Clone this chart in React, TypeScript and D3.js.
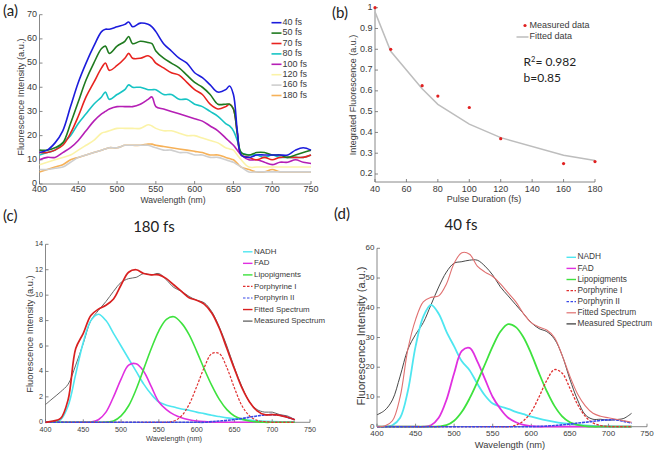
import React from "react";
import * as d3 from "d3";

// ---------- Panel (a) data ----------
const WL_A = [400,410,420,430,440,450,460,470,480,485,490,500,510,515,520,530,540,545,550,560,570,580,590,600,610,620,630,640,645,650,655,660,670,680,690,700,710,720,730,740,750];
const FS40 = [13,14,17,22,32,42,50,57,63,64,64,65,66,67,65,66.5,66,65,63,58,55,52,50,46,44,41,38,39,40.5,37,22,12,11,12,12,12,12,12,14,15,14];
const FS50 = [14,14,15,17,25,34,43,50,56,57,54,57,59,61,58,59,58.5,58,55,52,50,48,45,42,40,37,33,33,33,31,21,13,12,13,13,12,12,11,12,13,14];
const FS70 = [13,13,14,16,21,28,36,42,48,50,47,49,52,54,52,52,53,52,50,48,46,45,42,39,37,33,31,32,33,31,21,12,11,10,11,10,11,11,11,11,12];
const FS80 = [12,13,14,17,20,25,29,33,36,38,35,37,39,41,40,40,39,39,39,37,37,35,35,33,32,30,28,25,24,22,18,13,12,12,11,12,11,11,11,11,12];
const FS100 = [10,11,11,13,15,18,22,26,29,30,31,32,32,32,32,33,35,36,32,31,30,29,28,27,26,24,22,19,17.5,16,14,12,10,10,9,8,9,9,10,9,8.5];
const FS120 = [8,9,10,11,12,14,16,18,21,21.5,22,23,23,23,23,23,24.5,24,23,22,22,21,20,20,19,18,17,15,14.5,14,12,10,7,7,7,7,7,7,7,7,7];
const FS160 = [6,6,6.5,7,9,11,12,13,14,14.5,15,15,16,16,16,16,16,15.5,15,14,14,13,13,12,12,11,11,10,9.5,9,8,7,5,5,5,5,5,5,5,5,5];
const FS180 = [5,6,7,8,10,11,12,13,14,14.5,15,15,16,16,16,16,16.5,16.5,16,15.5,15,14.5,14,13.5,13,12,12,11,10.5,10,8.5,7,6,5,5,6,5,5,5,5,5];
const A_SERIES = [FS40, FS50, FS70, FS80, FS100, FS120, FS160, FS180];
const A_LABELS = ["40 fs","50 fs","70 fs","80 fs","100 fs","120 fs","160 fs","180 fs"];
const A_COLORS = ["#1c1cdc","#1f7a1f","#e8231f","#17c4c4","#b51fb5","#fbf3a8","#cfcfcf","#f6b158"];
const A_XTICKS = [400,450,500,550,600,650,700,750];
const A_YTICKS = [0,10,20,30,40,50,60,70];

// ---------- Panel (b) data ----------
const PULSE = [40,50,70,80,100,120,160,180];
const MEASURED_B = [1.0,0.80,0.625,0.575,0.52,0.37,0.25,0.26];
const FITTED_B = [0.98,0.79,0.61,0.535,0.44,0.375,0.29,0.265];
const B_XTICKS = [40,60,80,100,120,140,160,180];
const B_YTICKS = [0.2,0.3,0.4,0.5,0.6,0.7,0.8,0.9,1];

// ---------- Panels (c) and (d) data ----------
const WL_CD = [400,410,420,430,440,450,460,470,480,490,500,510,520,530,540,550,560,570,580,590,600,610,620,630,640,650,660,670,680,690,700,710,720,730];
const NADH_C = [0,0.05,0.2,1.3,3.8,6.3,8.0,8.5,8.0,7.0,6.0,5.0,4.0,3.0,2.2,1.6,1.35,1.2,1.05,0.95,0.8,0.68,0.55,0.45,0.35,0.28,0.22,0.17,0.12,0.08,0.05,0.03,0.02,0.01];
const FAD_C = [0,0,0,0,0,0,0.02,0.2,0.8,2.0,3.4,4.5,4.6,4.0,2.8,1.6,1.0,0.6,0.35,0.2,0.1,0.05,0.02,0,0,0,0,0,0,0,0,0,0,0];
const LIPO_C = [0,0,0,0,0,0,0,0,0.02,0.1,0.5,1.3,2.6,4.2,5.8,7.2,8.1,8.3,7.8,6.9,5.6,4.2,2.9,1.8,1.0,0.5,0.25,0.1,0.03,0,0,0,0,0];
const PORPH1_C = [0,0,0,0,0,0,0,0,0,0,0,0,0,0,0,0,0,0.1,0.5,1.4,2.8,4.3,5.4,5.4,4.3,2.7,1.3,0.5,0.15,0.05,0,0,0,0];
const PORPH2_C = [0,0,0,0,0,0,0,0,0,0,0,0,0,0,0,0,0,0,0,0,0,0,0.05,0.1,0.15,0.22,0.3,0.4,0.5,0.58,0.6,0.55,0.4,0.2];
const FIT_C = [0,0.1,0.3,1.8,5.8,7.0,8.4,8.9,9.2,9.7,10.8,11.8,12.0,11.7,11.6,11.6,11.3,10.8,10.3,9.8,9.6,9.3,8.6,7.4,5.8,4.2,2.7,1.6,0.9,0.6,0.6,0.55,0.4,0.2];
const MEAS_C = [1.4,1.9,2.4,3.0,4.5,6.2,8.0,8.8,9.5,10.3,11.0,11.3,11.4,11.7,11.6,11.7,11.2,10.6,10.3,9.9,9.6,9.4,8.7,7.5,6.0,4.3,2.8,1.6,1.0,0.8,0.8,0.6,0.5,0.2];

const NADH_D = [0,0,0.5,3,12,27,37,41,38,32,27,22,19,14.5,10.5,7.8,6.8,6.0,5.0,4.2,3.4,2.7,2.1,1.6,1.2,0.9,0.6,0.4,0.25,0.15,0.08,0.04,0.02,0];
const FAD_D = [0,0,0,0,0,0,0,0.5,3,9,18,25.5,26.5,22,16,10,6,3,1.5,0.6,0.2,0,0,0,0,0,0,0,0,0,0,0,0,0];
const LIPO_D = [0,0,0,0,0,0,0,0,0.1,0.5,2,5,9.5,15,21,27,32,34.5,33.5,30,24.5,18,12,7,3.5,1.5,0.6,0.2,0,0,0,0,0,0];
const PORPH1_D = [0,0,0,0,0,0,0,0,0,0,0,0,0,0,0,0,0,0,0.5,2,5,10,15.5,19.2,18,13,7.5,3.5,1.3,0.4,0.1,0,0,0];
const PORPH2_D = [0,0,0,0,0,0,0,0,0,0,0,0,0,0,0,0,0,0,0,0,0,0.1,0.2,0.4,0.6,0.9,1.2,1.5,1.8,2.1,2.3,2.3,1.8,1.2];
const FIT_D = [0,0.2,2,10,26,36,42,43.5,44,48,55,58.5,58,54,52,50.5,48,45,42,38,35,33.5,32.5,30,24,17,11,7,4.5,3.5,3,2.5,2,1.5];
const MEAS_D = [4,5.5,9,17,26,31,35,41,47,52,55,55.5,56,56,54,51,47,44,41,38,35,33,32,29.5,24,16,9,4,2.5,2.5,2.2,2.4,2.8,4.5];

const CD_LABELS = ["NADH","FAD","Lipopigments","Porphyrine I","Porphyrin II","Fitted Spectrum","Measured Spectrum"];
const CD_XTICKS = [400,450,500,550,600,650,700,750];
const C_YTICKS = [0,2,4,6,8,10,12,14];
const D_YTICKS = [0,10,20,30,40,50,60];

const AX_FONT = "'Liberation Sans', Arial, sans-serif";
const TITLE_FONT = "Lato, 'Open Sans', sans-serif";
const TXT = "#3a3a3a";
const AXC = "#6a6a6a";

type AxesProps = {
  x: d3.ScaleLinear<number, number>;
  y: d3.ScaleLinear<number, number>;
  xTicks: number[];
  yTicks: number[];
  fs: number;
  yBottom: number;
  yTop: number;
  xLabelY: number;
  yLabelGap: number;
};

function Axes({ x, y, xTicks, yTicks, fs, yBottom, yTop, xLabelY, yLabelGap }: AxesProps) {
  const [x0, x1] = x.range();
  return (
    <g fontFamily={AX_FONT} fontSize={fs} fill={TXT}>
      <line x1={x0} x2={x0} y1={yTop} y2={yBottom} stroke={AXC} strokeWidth={0.8} />
      <line x1={x0} x2={x1} y1={yBottom} y2={yBottom} stroke={AXC} strokeWidth={0.8} />
      {xTicks.map((t) => (
        <g key={"x" + t}>
          <line x1={x(t)} x2={x(t)} y1={yBottom} y2={yBottom - 3} stroke={AXC} strokeWidth={0.8} />
          <text x={x(t)} y={xLabelY} textAnchor="middle" dominantBaseline="middle">{t}</text>
        </g>
      ))}
      {yTicks.map((t) => (
        <g key={"y" + t}>
          <line x1={x0} x2={x0 + 3} y1={y(t)} y2={y(t)} stroke={AXC} strokeWidth={0.8} />
          <text x={x0 - yLabelGap} y={y(t)} textAnchor="end" dominantBaseline="middle">{String(+t.toFixed(2))}</text>
        </g>
      ))}
    </g>
  );
}

function PanelA() {
  const x = d3.scaleLinear().domain([400, 750]).range([39.5, 311]);
  const y = d3.scaleLinear().domain([0, 70]).range([184, 14.7]);
  const line = d3.line<number>().x((_, i) => x(WL_A[i])).y((v) => y(v)).curve(d3.curveCatmullRom);
  const order = [7, 6, 5, 4, 3, 2, 1, 0];
  return (
    <g>
      <text x={3} y={12} fontFamily={TITLE_FONT} fontSize={15} fill="#222" dominantBaseline="middle">(a)</text>
      <Axes x={x} y={y} xTicks={A_XTICKS} yTicks={A_YTICKS} fs={9} yBottom={184} yTop={14.7} xLabelY={190} yLabelGap={2.5} />
      {order.map((k) => (
        <path key={k} d={line(A_SERIES[k]) || ""} fill="none" stroke={A_COLORS[k]} strokeWidth={1.6} />
      ))}
      <text x={173} y={200.5} textAnchor="middle" dominantBaseline="middle" fontFamily={AX_FONT} fontSize={8.6} fill={TXT}>Wavelength (nm)</text>
      <text transform="translate(21.5,97) rotate(-90)" textAnchor="middle" dominantBaseline="middle" fontFamily={AX_FONT} fontSize={9.3} fill={TXT}>Fluorescence Intensity (a.u.)</text>
      {A_LABELS.map((lab, i) => (
        <g key={lab}>
          <line x1={271.5} x2={281.5} y1={22.7 + i * 10.4} y2={22.7 + i * 10.4} stroke={A_COLORS[i]} strokeWidth={1.6} />
          <text x={282.5} y={22.7 + i * 10.4} dominantBaseline="middle" fontFamily={AX_FONT} fontSize={9} fill={TXT}>{lab}</text>
        </g>
      ))}
    </g>
  );
}

function PanelB() {
  const x = d3.scaleLinear().domain([40, 180]).range([375, 595]);
  const y = d3.scaleLinear().domain([0.2, 1]).range([174, 7.7]);
  const fit = d3.line<number>().x((_, i) => x(PULSE[i])).y((v) => y(v));
  return (
    <g>
      <text x={332} y={14} fontFamily={TITLE_FONT} fontSize={15} fill="#222" dominantBaseline="middle">(b)</text>
      <Axes x={x} y={y} xTicks={B_XTICKS} yTicks={B_YTICKS} fs={9} yBottom={182} yTop={7.7} xLabelY={189.5} yLabelGap={2.5} />
      <path d={fit(FITTED_B) || ""} fill="none" stroke="#bdbdbd" strokeWidth={1.5} />
      {MEASURED_B.map((v, i) => (
        <circle key={i} cx={x(PULSE[i])} cy={y(v)} r={1.6} fill="#e02020" />
      ))}
      <text x={484} y={199.5} textAnchor="middle" dominantBaseline="middle" fontFamily={AX_FONT} fontSize={9} fill={TXT}>Pulse Duration (fs)</text>
      <text transform="translate(353.5,95) rotate(-90)" textAnchor="middle" dominantBaseline="middle" fontFamily={AX_FONT} fontSize={9} fill={TXT}>Integrated Fluorescence (a.u.)</text>
      <circle cx={525} cy={25.5} r={1.6} fill="#e02020" />
      <text x={529.5} y={25.5} dominantBaseline="middle" fontFamily={AX_FONT} fontSize={9} fill={TXT}>Measured data</text>
      <line x1={516.5} x2={528.5} y1={37} y2={37} stroke="#bdbdbd" strokeWidth={1.5} />
      <text x={529.5} y={37} dominantBaseline="middle" fontFamily={AX_FONT} fontSize={9} fill={TXT}>Fitted data</text>
      <text x={523.5} y={66} fontFamily={TITLE_FONT} fontSize={12} fill="#222">R<tspan fontSize={7.5} dy={-4.5}>2</tspan><tspan dy={4.5}>= 0.982</tspan></text>
      <text x={523.5} y={81.5} fontFamily={TITLE_FONT} fontSize={12} fill="#222">b=0.85</text>
    </g>
  );
}

type SpecProps = {
  x: d3.ScaleLinear<number, number>;
  y: d3.ScaleLinear<number, number>;
  series: number[][];
  colors: string[];
  widths: number[];
  dashes: (string | undefined)[];
};

function Spectra({ x, y, series, colors, widths, dashes }: SpecProps) {
  const line = d3.line<number>().x((_, i) => x(WL_CD[i])).y((v) => y(v)).curve(d3.curveCatmullRom);
  return (
    <g>
      {series.map((s, k) => (
        <path key={k} d={line(s) || ""} fill="none" stroke={colors[k]} strokeWidth={widths[k]} strokeDasharray={dashes[k]} />
      ))}
    </g>
  );
}

function Legend({ x0, y0, dy, colors, dashes, fs, widths }: { x0: number; y0: number; dy: number; colors: string[]; dashes: (string | undefined)[]; fs: number; widths: number[] }) {
  return (
    <g>
      {CD_LABELS.map((lab, i) => (
        <g key={lab}>
          <line x1={x0} x2={x0 + 9.5} y1={y0 + i * dy} y2={y0 + i * dy} stroke={colors[i]} strokeWidth={widths[i]} strokeDasharray={dashes[i]} />
          <text x={x0 + 11} y={y0 + i * dy} dominantBaseline="middle" fontFamily={AX_FONT} fontSize={fs} fill={TXT}>{lab}</text>
        </g>
      ))}
    </g>
  );
}

const C_COLORS = ["#4ee6f0","#e030e0","#3ee23e","#e03030","#3848e8","#d82020","#555555"];
const D_COLORS = ["#4ee6f0","#e030e0","#3ee23e","#e03030","#3848e8","#e07070","#333333"];
const DASHES = [undefined, undefined, undefined, "2.5,1.5", "2.5,1.5", undefined, undefined];
const BASE_DASH = "3,0.8";

function PanelC() {
  const x = d3.scaleLinear().domain([400, 750]).range([45.5, 310]);
  const y = d3.scaleLinear().domain([0, 14]).range([422.3, 244.3]);
  const series = [MEAS_C, NADH_C, FAD_C, LIPO_C, PORPH1_C, PORPH2_C, FIT_C];
  const cols = [C_COLORS[6], C_COLORS[0], C_COLORS[1], C_COLORS[2], C_COLORS[3], C_COLORS[4], C_COLORS[5]];
  const ws = [0.9, 1.6, 1.6, 1.6, 1.2, 1.6, 1.7];
  const ds = [undefined, undefined, undefined, undefined, DASHES[3], BASE_DASH, undefined];
  return (
    <g>
      <text x={3} y={217} fontFamily={TITLE_FONT} fontSize={15} fill="#222" dominantBaseline="middle">(c)</text>
      <text x={154} y={228} textAnchor="middle" fontFamily={TITLE_FONT} fontSize={15} fill="#222" dominantBaseline="middle">180 fs</text>
      <Axes x={x} y={y} xTicks={CD_XTICKS} yTicks={C_YTICKS} fs={7.2} yBottom={422.3} yTop={244.3} xLabelY={430} yLabelGap={2.5} />
      <Spectra x={x} y={y} series={series} colors={cols} widths={ws} dashes={ds} />
      <text x={174} y={439.5} textAnchor="middle" dominantBaseline="middle" fontFamily={AX_FONT} fontSize={7.4} fill={TXT}>Wavelength (nm)</text>
      <text transform="translate(31,334) rotate(-90)" textAnchor="middle" dominantBaseline="middle" fontFamily={AX_FONT} fontSize={9.3} fill={TXT}>Fluorescence Intensity (a.u.)</text>
      <Legend x0={243} y0={251.8} dy={11.55} colors={C_COLORS} dashes={DASHES} fs={7.9} widths={[1.4,1.4,1.4,1.2,1.2,1.4,1.2]} />
    </g>
  );
}

function PanelD() {
  const x = d3.scaleLinear().domain([400, 750]).range([377, 647]);
  const y = d3.scaleLinear().domain([0, 60]).range([426.7, 248.3]);
  const series = [MEAS_D, NADH_D, FAD_D, LIPO_D, PORPH1_D, PORPH2_D, FIT_D];
  const cols = [D_COLORS[6], D_COLORS[0], D_COLORS[1], D_COLORS[2], D_COLORS[3], D_COLORS[4], D_COLORS[5]];
  const ws = [0.9, 1.8, 1.8, 1.8, 1.3, 1.6, 1.1];
  const ds = [undefined, undefined, undefined, undefined, DASHES[3], BASE_DASH, undefined];
  return (
    <g>
      <text x={334} y={215.7} fontFamily={TITLE_FONT} fontSize={15} fill="#222" dominantBaseline="middle">(d)</text>
      <text x={461} y={226.7} textAnchor="middle" fontFamily={TITLE_FONT} fontSize={15} fill="#222" dominantBaseline="middle">40 fs</text>
      <Axes x={x} y={y} xTicks={CD_XTICKS} yTicks={D_YTICKS} fs={8} yBottom={426.7} yTop={248.3} xLabelY={433.5} yLabelGap={2.5} />
      <Spectra x={x} y={y} series={series} colors={cols} widths={ws} dashes={ds} />
      <text x={510} y={446} textAnchor="middle" dominantBaseline="middle" fontFamily={AX_FONT} fontSize={9.3} fill={TXT}>Wavelength (nm)</text>
      <text transform="translate(361.7,336) rotate(-90)" textAnchor="middle" dominantBaseline="middle" fontFamily={AX_FONT} fontSize={11} fill={TXT}>Fluorescence Intensity (a.u.)</text>
      <Legend x0={566.5} y0={257.3} dy={11.1} colors={D_COLORS} dashes={DASHES} fs={8.3} widths={[1.4,1.4,1.4,1.2,1.2,1.2,1.2]} />
    </g>
  );
}

export default function App() {
  return (
    <svg width={660} height={452} viewBox="0 0 660 452" style={{ position: "absolute", left: 0, top: 0, background: "#fff" }}>
      <rect x={0} y={0} width={660} height={452} fill="#fff" />
      <PanelA />
      <PanelB />
      <PanelC />
      <PanelD />
    </svg>
  );
}
